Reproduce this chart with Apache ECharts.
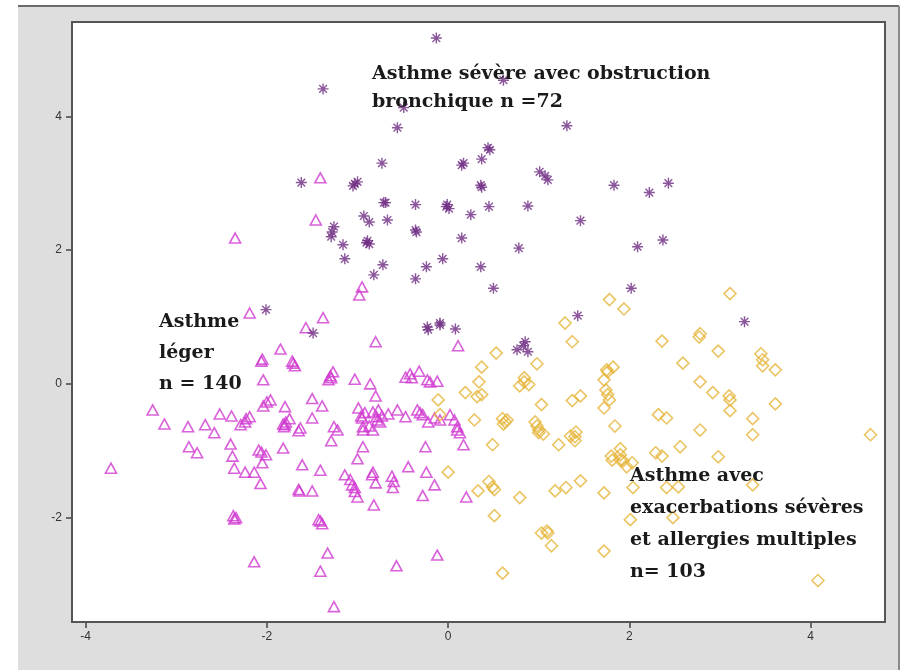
<!DOCTYPE html>
<html><head><meta charset="utf-8">
<script src="https://cdn.jsdelivr.net/npm/echarts@6/dist/echarts.min.js"></script>
<style>html,body{margin:0;padding:0;background:#fff}#c{width:904px;height:670px}</style>
</head><body><div id="c"></div>
<script>
// Tick labels
const xTicks = [-4, -2, 0, 2, 4];
const yTicks = [-2, 0, 2, 4];

// Asthme sévère avec obstruction bronchique (stars)
const severeObstruction = [
[-0.13,5.17],[-1.38,4.41],[0.61,4.54],[-0.49,4.13],[-0.56,3.83],[1.31,3.86],[-0.73,3.30],[-1.62,3.01],
[-1.05,2.96],[-1.00,3.02],[-0.69,2.71],[-0.36,2.68],[-0.02,2.65],[0.01,2.62],[-0.93,2.51],[-0.87,2.42],
[-0.67,2.45],[-0.35,2.27],[-1.26,2.35],[-1.29,2.20],[-1.16,2.08],[-0.90,2.11],[-0.87,2.09],[-1.14,1.87],
[-0.72,1.78],[-0.82,1.63],[-0.06,1.87],[-0.24,1.75],[-0.36,1.57],[-2.01,1.11],[-1.49,0.76],[-0.23,0.85],
[-0.09,0.91],[0.08,0.82],[0.15,3.27],[0.37,3.36],[0.44,3.53],[0.37,2.94],[1.01,3.17],[1.10,3.05],
[1.83,2.97],[2.22,2.86],[2.43,3.00],[0.25,2.53],[0.45,2.65],[0.88,2.66],[1.46,2.44],[0.15,2.18],
[0.78,2.03],[2.09,2.05],[2.37,2.15],[0.36,1.75],[0.50,1.43],[2.02,1.43],[1.43,1.02],[3.27,0.93],
[0.76,0.51],[0.85,0.63],[0.88,0.48],[-0.01,2.68],[-1.03,2.99],[-0.89,2.14],[-0.71,2.71],[0.46,3.50],
[1.07,3.11],[0.83,0.57],[-0.09,0.88],[-0.22,0.81],[-0.36,2.30],[-1.28,2.27],[0.17,3.30],[0.36,2.97]
];

// Asthme léger (triangles)
const mildAsthma = [
[-1.41,3.08],[-1.46,2.45],[-2.35,2.18],[-0.95,1.45],[-0.98,1.33],[-2.19,1.06],[-1.38,0.99],[-1.57,0.84],
[-1.85,0.52],[-0.80,0.63],[-1.71,0.31],[-1.69,0.27],[-2.06,0.34],[-2.04,0.06],[0.11,0.57],[-1.30,0.12],
[-1.27,0.18],[-1.03,0.07],[-0.86,0.00],[-0.80,-0.18],[-0.47,0.10],[-0.40,0.09],[-0.32,0.19],[-0.20,0.03],
[-0.12,0.04],[-3.26,-0.39],[-3.13,-0.60],[-2.87,-0.64],[-2.68,-0.61],[-2.58,-0.73],[-2.52,-0.45],[-2.39,-0.48],
[-2.24,-0.57],[-2.19,-0.49],[-2.04,-0.33],[-2.00,-0.27],[-1.80,-0.34],[-1.75,-0.52],[-1.82,-0.60],[-1.81,-0.64],
[-1.65,-0.70],[-1.50,-0.22],[-1.39,-0.33],[-1.50,-0.51],[-1.26,-0.64],[-1.29,-0.85],[-0.99,-0.36],[-0.96,-0.48],
[-0.94,-0.64],[-0.83,-0.42],[-0.78,-0.54],[-0.73,-0.48],[-0.56,-0.39],[-0.47,-0.49],[-0.34,-0.39],[-0.28,-0.46],
[-0.22,-0.57],[-2.86,-0.94],[-2.77,-1.03],[-2.40,-0.90],[-2.38,-1.08],[-2.36,-1.26],[-2.24,-1.32],[-2.14,-1.32],
[-2.06,-1.02],[-2.05,-1.18],[-2.07,-1.49],[-1.82,-0.96],[-1.61,-1.21],[-1.41,-1.29],[-1.64,-1.60],[-1.50,-1.60],
[-1.14,-1.36],[-1.06,-1.51],[-1.03,-1.61],[-1.00,-1.69],[-0.94,-0.94],[-1.00,-1.12],[-0.83,-1.32],[-0.80,-1.48],
[-0.62,-1.38],[-0.61,-1.55],[-0.44,-1.24],[-0.24,-1.32],[-0.15,-1.51],[-0.28,-1.67],[-0.25,-0.94],[-0.82,-1.81],
[-2.37,-1.97],[-2.36,-2.02],[-1.41,-2.05],[-1.39,-2.09],[-1.33,-2.53],[-1.41,-2.80],[-2.14,-2.66],[-0.57,-2.72],
[-0.12,-2.56],[-1.26,-3.33],[-3.72,-1.26],[0.02,-0.46],[0.10,-0.64],[0.13,-0.73],[0.17,-0.91],[0.20,-1.69],
[-0.94,-0.69],[-0.83,-0.69],[-2.05,0.37],[-1.72,0.34],[-1.29,0.09],[-1.32,0.06],[-1.79,-0.57],[-1.80,-0.61],
[-0.95,-0.51],[-0.87,-0.63],[-0.92,-0.43],[-0.79,-0.49],[-0.75,-0.57],[-0.66,-0.45],[-1.03,-1.55],[-1.08,-1.43],
[-2.09,-0.99],[-2.34,-2.00],[-1.43,-2.03],[-1.63,-0.66],[-0.31,-0.43],[-0.15,-0.51],[-0.09,-0.54],[-2.23,-0.52],
[-0.42,0.15],[-0.23,0.06],[-0.77,-0.39],[-1.22,-0.69],[-2.29,-0.61],[-1.96,-0.24],[-2.01,-1.06],[-1.65,-1.58],
[-0.84,-1.36],[-0.60,-1.46],[0.10,-0.69],[0.07,-0.54]
];

// Asthme avec exacerbations sévères et allergies multiples (diamonds)
const severeExacerbations = [
[1.78,1.26],[1.94,1.12],[3.11,1.35],[1.29,0.91],[1.37,0.63],[2.36,0.64],[2.77,0.70],[2.59,0.31],
[2.98,0.49],[3.45,0.45],[3.47,0.27],[3.61,0.21],[2.78,0.03],[2.92,-0.13],[3.10,-0.18],[3.11,-0.40],
[3.61,-0.30],[2.32,-0.46],[2.41,-0.51],[2.78,-0.69],[3.36,-0.52],[3.36,-0.76],[4.66,-0.76],[2.56,-0.94],
[2.29,-1.03],[2.36,-1.08],[2.98,-1.09],[1.97,-1.24],[2.04,-1.55],[2.41,-1.55],[2.54,-1.54],[2.01,-2.03],
[2.48,-2.00],[4.08,-2.94],[3.36,-1.51],[0.53,0.46],[0.37,0.25],[0.98,0.30],[0.84,0.09],[0.79,-0.03],
[0.89,-0.01],[0.19,-0.13],[0.32,-0.19],[0.34,0.03],[1.03,-0.31],[0.60,-0.52],[0.65,-0.54],[0.61,-0.60],
[0.29,-0.54],[0.96,-0.57],[1.00,-0.73],[1.05,-0.75],[0.49,-0.91],[1.37,-0.25],[1.46,-0.18],[1.75,0.21],
[1.82,0.25],[1.72,0.06],[1.74,-0.09],[1.78,-0.24],[1.72,-0.36],[1.35,-0.78],[1.41,-0.72],[1.40,-0.85],
[1.22,-0.91],[1.84,-0.63],[1.80,-1.08],[1.90,-0.97],[1.93,-1.15],[2.03,-1.18],[0.45,-1.46],[0.51,-1.58],
[0.33,-1.60],[0.51,-1.97],[0.79,-1.70],[1.18,-1.60],[1.30,-1.55],[1.46,-1.45],[1.72,-1.63],[1.03,-2.23],
[1.09,-2.20],[1.14,-2.42],[1.72,-2.50],[0.60,-2.83],[0.00,-1.32],[-0.11,-0.24],[-0.09,-0.46],[1.90,-1.14],
[0.63,-0.57],[1.00,-0.69],[0.84,0.03],[1.76,-0.16],[1.76,0.18],[1.40,-0.79],[1.90,-1.06],[1.10,-2.23],
[0.49,-1.54],[0.37,-0.16],[2.78,0.75],[3.11,-0.24],[3.47,0.36],[1.81,-1.14],[0.98,-0.63]
];

const starPath = 'path://M5,0L5,10M0,5L10,5M1.5,1.5L8.5,8.5M8.5,1.5L1.5,8.5';
const serif = '"DejaVu Serif", "Liberation Serif", serif';
const annFont = 'bold 19px ' + serif;

const chart = echarts.init(document.getElementById('c'), null, {renderer: 'canvas'});
chart.setOption({
  animation: false,
  backgroundColor: '#ffffff',
  grid: {left: 72, top: 22, width: 813, height: 600, show: true,
         backgroundColor: '#ffffff', borderColor: '#555555', borderWidth: 2, z: 1},
  graphic: [
    {type: 'rect', z: -10, silent: true, shape: {x: 18, y: 6, width: 881, height: 664},
     style: {fill: '#dedede'}},
    {type: 'line', z: -9, silent: true, shape: {x1: 18, y1: 6, x2: 899, y2: 6},
     style: {stroke: '#6a6a6a', lineWidth: 2}},
    {type: 'line', z: -9, silent: true, shape: {x1: 899, y1: 6, x2: 899, y2: 670},
     style: {stroke: '#8a8a8a', lineWidth: 2}},
    {type: 'text', z: 100, left: 372, top: 60,
     style: {text: 'Asthme sévère avec obstruction\nbronchique n =72', font: annFont,
             fill: '#1a1a1a', lineHeight: 28}},
    {type: 'text', z: 100, left: 159, top: 307,
     style: {text: 'Asthme\nléger\nn = 140', font: annFont, fill: '#1a1a1a', lineHeight: 31}},
    {type: 'text', z: 100, left: 630, top: 460,
     style: {text: 'Asthme avec\nexacerbations sévères\net allergies multiples\nn= 103', font: annFont,
             fill: '#1a1a1a', lineHeight: 32}}
  ],
  xAxis: {
    type: 'value', min: -4.15, max: 4.82,
    splitLine: {show: false},
    axisLine: {show: true, onZero: false, lineStyle: {color: '#555555', width: 2}},
    axisTick: {show: true, length: 6, customValues: xTicks, lineStyle: {color: '#444444', width: 1.5}},
    axisLabel: {customValues: xTicks, color: '#333333', fontSize: 12, margin: 9,
                fontFamily: '"Liberation Sans", Arial, sans-serif'}
  },
  yAxis: {
    type: 'value', min: -3.56, max: 5.41,
    splitLine: {show: false},
    axisLine: {show: true, onZero: false, lineStyle: {color: '#555555', width: 2}},
    axisTick: {show: true, length: 6, customValues: yTicks, lineStyle: {color: '#444444', width: 1.5}},
    axisLabel: {customValues: yTicks, color: '#333333', fontSize: 12, margin: 10,
                fontFamily: '"Liberation Sans", Arial, sans-serif'}
  },
  series: [
    {name: 'Asthme léger', type: 'scatter', data: mildAsthma, symbol: 'triangle', symbolSize: [11, 10],
     itemStyle: {color: 'rgba(0,0,0,0)', borderColor: '#d03ad0', borderWidth: 1.6}, z: 2},
    {name: 'Asthme avec exacerbations', type: 'scatter', data: severeExacerbations, symbol: 'diamond', symbolSize: 12,
     itemStyle: {color: 'rgba(0,0,0,0)', borderColor: '#e6b53c', borderWidth: 1.6}, z: 3},
    {name: 'Asthme sévère', type: 'scatter', data: severeObstruction, symbol: starPath, symbolSize: 11,
     itemStyle: {color: 'rgba(0,0,0,0)', borderColor: '#6e2c82', borderWidth: 1.4}, z: 4}
  ]
});
</script></body></html>
